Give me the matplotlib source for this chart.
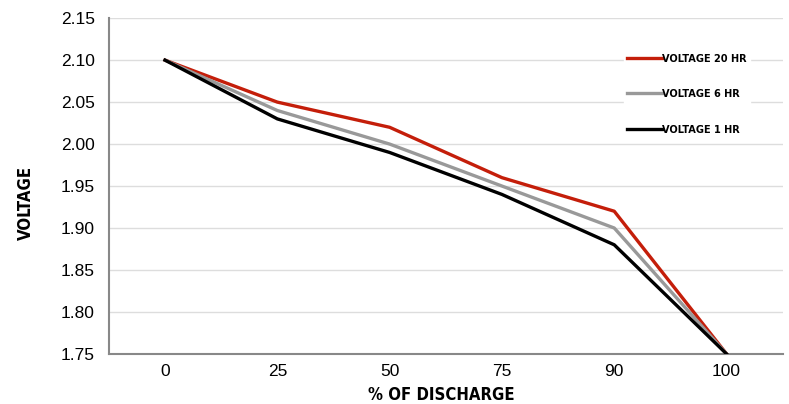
import matplotlib
matplotlib.use("Agg")
import matplotlib.pyplot as plt
from matplotlib import font_manager

# data
discharge = ["0", "25", "50", "75", "90", "100"]
voltage_20hr = [2.10, 2.05, 2.02, 1.96, 1.92, 1.75]
voltage_6hr = [2.10, 2.04, 2.00, 1.95, 1.90, 1.75]
voltage_1hr = [2.10, 2.03, 1.99, 1.94, 1.88, 1.75]
y_ticks = [1.75, 1.80, 1.85, 1.90, 1.95, 2.00, 2.05, 2.10, 2.15]

names = {f.name for f in font_manager.fontManager.ttflist}
if "Liberation Sans Narrow" in names:
    narrow = {"family": "Liberation Sans Narrow", "weight": "bold"}
else:
    narrow = {"family": "DejaVu Sans", "stretch": "condensed", "weight": "bold"}
regular = "Liberation Sans"

fig = plt.figure(figsize=(7.89, 4.04), dpi=100)
ax = fig.add_axes([0.138, 0.124, 0.854, 0.831])

x = list(range(len(discharge)))
ax.plot(x, voltage_20hr, color="#c41e0a", lw=2.4, label="VOLTAGE 20 HR", zorder=3)
ax.plot(x, voltage_6hr, color="#999999", lw=2.4, label="VOLTAGE 6 HR", zorder=4)
ax.plot(x, voltage_1hr, color="#000000", lw=2.4, label="VOLTAGE 1 HR", zorder=5)

ax.set_xlim(-0.5, 5.5)
ax.set_ylim(1.75, 2.15)
ax.set_xticks(x)
ax.set_xticklabels(discharge, family=regular, fontsize=12.5)
ax.set_yticks(y_ticks)
ax.set_yticklabels(["%.2f" % v for v in y_ticks], family=regular, fontsize=12.5)
ax.tick_params(axis="y", length=0, pad=10)
ax.tick_params(axis="x", length=0, pad=7)

ax.grid(axis="y", color="#dddddd", lw=1)
ax.set_axisbelow(True)
for side in ["top", "right"]:
    ax.spines[side].set_visible(False)
for side in ["left", "bottom"]:
    ax.spines[side].set_color("#888888")
    ax.spines[side].set_linewidth(1.5)

ax.set_xlabel("% OF DISCHARGE", fontsize=12, **narrow)
ax.xaxis.set_label_coords(0.494, -0.095)
ax.set_ylabel("VOLTAGE", fontsize=12, **narrow)
ax.yaxis.set_label_coords(-0.11, 0.45)

leg = ax.legend(loc="upper right", bbox_to_anchor=(0.96, 0.92), frameon=True,
                prop=dict(size=7.8, **narrow),
                handlelength=3.2, handletextpad=0.05, labelspacing=2.35,
                borderpad=0.3)
leg.get_frame().set_edgecolor("white")
leg.get_frame().set_facecolor("white")
leg.get_frame().set_alpha(1)

fig.savefig("out.png", dpi=100)
